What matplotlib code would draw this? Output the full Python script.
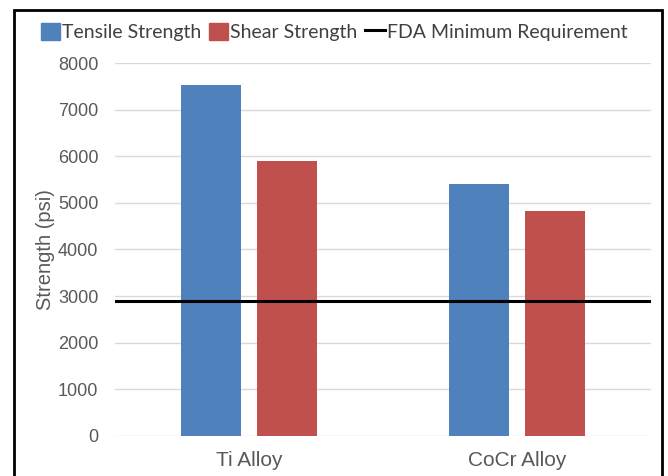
import matplotlib.pyplot as plt
import numpy as np
from matplotlib.patches import Rectangle
from matplotlib.lines import Line2D

# data
alloys = ['Ti Alloy', 'CoCr Alloy']
tensile = [7530, 5410]
shear = [5900, 4830]
fda_min = 2900
yticks = [0, 1000, 2000, 3000, 4000, 5000, 6000, 7000, 8000]

blue = '#4f81bd'
red = '#c0504d'
grey = '#595959'

fig = plt.figure(figsize=(6.68, 4.76), dpi=100)
ax = fig.add_axes([115 / 668, 1 - 435.7 / 476, 536 / 668, (435.7 - 63.3) / 476])

x = np.arange(len(alloys))
w = 0.224
ax.bar(x - 0.143, tensile, width=w, color=blue, zorder=2, label='Tensile Strength')
ax.bar(x + 0.143, shear, width=w, color=red, zorder=2, label='Shear Strength')
ax.axhline(fda_min, color='black', lw=2.2, zorder=3)

ax.set_xlim(-0.5, 1.5)
ax.set_ylim(0, 8000)
ax.set_yticks(yticks)
ax.set_xticks(x)
ax.set_xticklabels(alloys, fontsize=15, color=grey, family='Liberation Sans')
for t in ax.get_yticklabels():
    t.set_fontsize(13)
    t.set_color(grey)
    t.set_family('Liberation Sans')
ax.tick_params(axis='both', length=0)
ax.tick_params(axis='y', pad=12)
ax.tick_params(axis='x', pad=11)
ax.grid(axis='y', color='#d9d9d9', lw=1, zorder=0)
for s in ax.spines.values():
    s.set_visible(False)

ax.set_ylabel('Strength (psi)', fontsize=14.5, color=grey, family='Liberation Sans')
ax.yaxis.set_label_coords(-0.112, 0.5)

handles = [Rectangle((0, 0), 1, 1, color=blue), Rectangle((0, 0), 1, 1, color=red),
           Line2D([0], [0], color='black', lw=2.2)]
labels = ['Tensile Strength', 'Shear Strength', 'FDA Minimum Requirement']
fig.legend(handles, labels, loc='center', bbox_to_anchor=(0.5, 1 - 32 / 476), ncol=3,
           frameon=False, handlelength=1.0, handleheight=1.0, handletextpad=0.1,
           columnspacing=0.4, prop={'family': 'Lato', 'size': 14}, labelcolor='#404040')

# black frame around the chart, bottom runs off the image
fig.patches.append(Rectangle((14 / 668, -0.1), (662 - 14) / 668, 1.1 - 10 / 476,
                             transform=fig.transFigure, fill=False, edgecolor='black', lw=2))

fig.savefig('out.png', dpi=100)
